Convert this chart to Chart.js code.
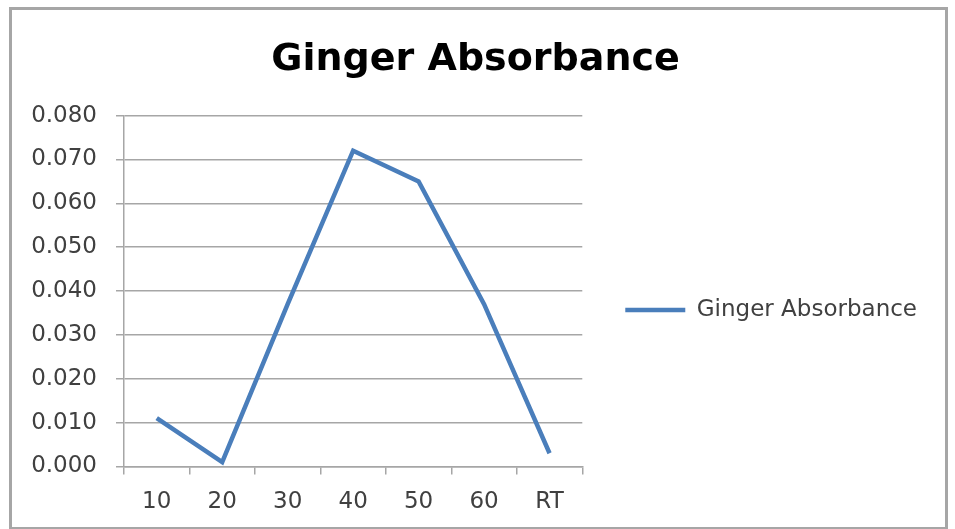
<!DOCTYPE html>
<html>
<head>
<meta charset="utf-8">
<script src="https://cdn.jsdelivr.net/npm/chart.js@4/dist/chart.umd.min.js"></script>
<style>
  html, body { margin: 0; padding: 0; background: #ffffff; }
  canvas { display: block; }
</style>
</head>
<body>
<canvas id="chart" width="955" height="529"></canvas>
<script>
// Temperature / condition categories along the x axis
const categories = ['10', '20', '30', '40', '50', '60', 'RT'];
// Measured absorbance per category
const absorbance = [0.011, 0.001, 0.037, 0.072, 0.065, 0.037, 0.003];
// Value axis range and step
const yMin = 0.000;
const yMax = 0.080;
const yStep = 0.010;

const seriesName = 'Ginger Absorbance';
const chartTitle = 'Ginger Absorbance';

const LINE_BLUE = '#4a7ebb';
const GRID_GREY = '#a6a6a6';
const TEXT_GREY = '#404040';

Chart.defaults.font.family = '"DejaVu Sans", sans-serif';

// White background and a grey frame round the whole chart
const framePlugin = {
  id: 'frame',
  beforeDraw(chart) {
    const ctx = chart.ctx;
    ctx.save();
    ctx.fillStyle = '#ffffff';
    ctx.fillRect(0, 0, chart.width, chart.height);
    ctx.restore();
  },
  afterDraw(chart) {
    const ctx = chart.ctx;
    ctx.save();
    ctx.strokeStyle = '#a6a6a6';
    ctx.lineWidth = 3;
    ctx.strokeRect(10.5, 8.5, 936, 520);
    ctx.restore();
  }
};

new Chart(document.getElementById('chart'), {
  type: 'line',
  data: {
    labels: categories,
    datasets: [{
      label: seriesName,
      data: absorbance,
      borderColor: LINE_BLUE,
      backgroundColor: LINE_BLUE,
      borderWidth: 4.5,
      pointRadius: 0,
      pointHoverRadius: 0,
      tension: 0,
      fill: false
    }]
  },
  options: {
    responsive: false,
    animation: false,
    events: [],
    layout: { padding: { left: 24, right: 28, top: 0, bottom: 0 } },
    plugins: {
      title: {
        display: true,
        text: chartTitle,
        color: '#000000',
        font: { size: 38, weight: 'bold', lineHeight: 1.2 },
        padding: { top: 37, bottom: 33 }
      },
      legend: {
        display: true,
        position: 'right',
        align: 'center',
        maxWidth: 400,
        title: { display: true, text: '', padding: { top: 90, bottom: 0 }, font: { size: 1 } },
        labels: {
          usePointStyle: true,
          pointStyle: 'line',
          pointStyleWidth: 60,
          padding: 43,
          color: TEXT_GREY,
          font: { size: 23 }
        }
      },
      tooltip: { enabled: false }
    },
    scales: {
      x: {
        type: 'category',
        offset: true,
        grid: {
          display: true,
          offset: true,
          drawOnChartArea: false,
          drawTicks: true,
          tickLength: 8,
          color: GRID_GREY,
          lineWidth: 1.5
        },
        border: { display: true, color: GRID_GREY, width: 1.5 },
        ticks: { color: TEXT_GREY, font: { size: 23, lineHeight: 1.07 }, padding: 15 }
      },
      y: {
        min: yMin,
        max: yMax,
        afterFit(scale) { scale.width = 100; },
        grid: {
          display: true,
          drawOnChartArea: true,
          drawTicks: true,
          tickLength: 8,
          color: GRID_GREY,
          lineWidth: 1.5
        },
        border: { display: true, color: GRID_GREY, width: 1.5 },
        ticks: {
          stepSize: yStep,
          color: TEXT_GREY,
          font: { size: 23 },
          padding: 19,
          callback: (v) => Number(v).toFixed(3)
        }
      }
    }
  },
  plugins: [framePlugin]
});
</script>
</body>
</html>
